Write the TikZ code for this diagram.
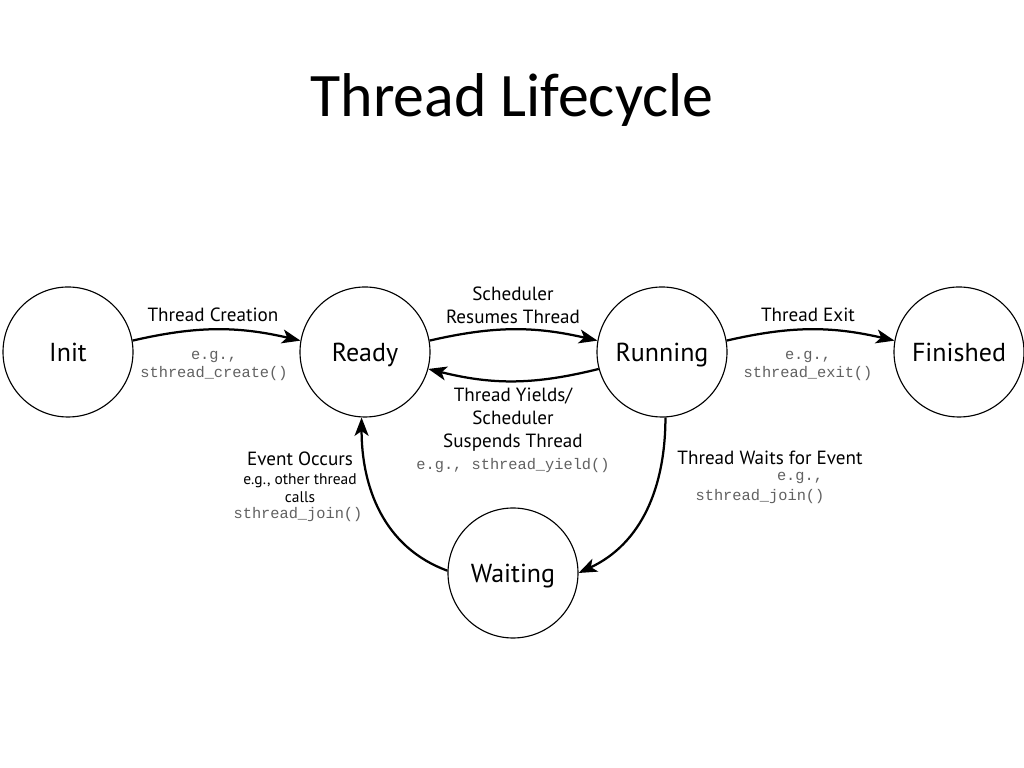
\documentclass[tikz,border=0pt]{standalone}
\usepackage{fontspec}
\setmainfont{PT Sans}
\setmonofont{Liberation Mono}
\newfontfamily\titlefont{Carlito}
\usepackage{xcolor}
\usepackage{tikz}
\usetikzlibrary{arrows.meta}
\usetikzlibrary{shapes}
\definecolor{codegray}{gray}{0.38}

\tikzset{
    state/.style={circle, draw, line width=0.8pt, minimum size=3.25cm, inner sep=0pt,
        text height=13pt, text depth=0pt, font=\fontsize{18.5}{22}\selectfont},
    trans/.style={line width=1.6pt, -{Stealth[length=4.6mm,width=3.5mm,inset=1.2mm]}},
    lbl/.style={align=center, inner sep=0pt, font=\fontsize{13.6}{16.3}\selectfont},
    small/.style={align=center, inner sep=0pt, font=\fontsize{11}{13}\selectfont},
    code/.style={align=center, inner sep=0pt, text=codegray,
        font=\ttfamily\fontsize{10.9}{12.8}\selectfont}
}

\begin{document}
\begin{tikzpicture}
            \useasboundingbox[fill=white] (0, 0) rectangle (25.6, 19.2);

            \node (title) at (12.8, 16.7) {\titlefont\fontsize{44}{52}\selectfont Thread Lifecycle};

            \node[state] (init) at (1.7, 10.4) {Init};
            \node[state] (ready) at (9.125, 10.4) {Ready};
            \node[state] (running) at (16.55, 10.4) {Running};
            \node[state] (finished) at (23.975, 10.4) {Finished};
            \node[state] (waiting) at (12.825, 4.875) {Waiting};

            \draw[trans] (init.10) to[bend left=13] (ready.170);
            \draw[trans] (ready.10) to[bend left=13] (running.170);
            \draw[trans] (running.195) to[bend left=14] (ready.-15);
            \draw[trans] (running.10) to[bend left=13] (finished.170);
            \draw[trans] (running.-87) to[out=-90, in=25] (waiting.0);
            \draw[trans] (waiting.178) to[out=160, in=-90] (ready.-93);

            % transition labels
            \node[lbl] (createlbl) at (5.325, 11.325) {Thread Creation};
            \node[code] (createcode) at (5.35, 10.05) {e.g.,\\sthread\_create()};

            \node[lbl] (resumelbl) at (12.825, 11.575) {Scheduler\\Resumes Thread};
            \node[lbl] (yieldlbl) at (12.825, 8.7) {Thread Yields/\\Scheduler\\Suspends Thread};
            \node[code] (yieldcode) at (12.825, 7.55) {e.g., sthread\_yield()};

            \node[lbl] (exitlbl) at (20.2, 11.325) {Thread Exit};
            \node[code] (exitcode) at (20.2, 10.05) {e.g.,\\sthread\_exit()};

            \node[lbl] (eventlbl) at (7.5, 7.725) {Event Occurs};
            \node[small] (eventnote) at (7.5, 7.0) {e.g., other thread\\calls};
            \node[code] (eventcode) at (7.45, 6.325) {sthread\_join()};

            \node[lbl] (waitlbl) at (19.25, 7.75) {Thread Waits for Event};
            \node[code] (waiteg) at (20.0, 7.25) {e.g.,};
            \node[code] (waitcode) at (19.0, 6.775) {sthread\_join()};

        \end{tikzpicture}
\end{document}
